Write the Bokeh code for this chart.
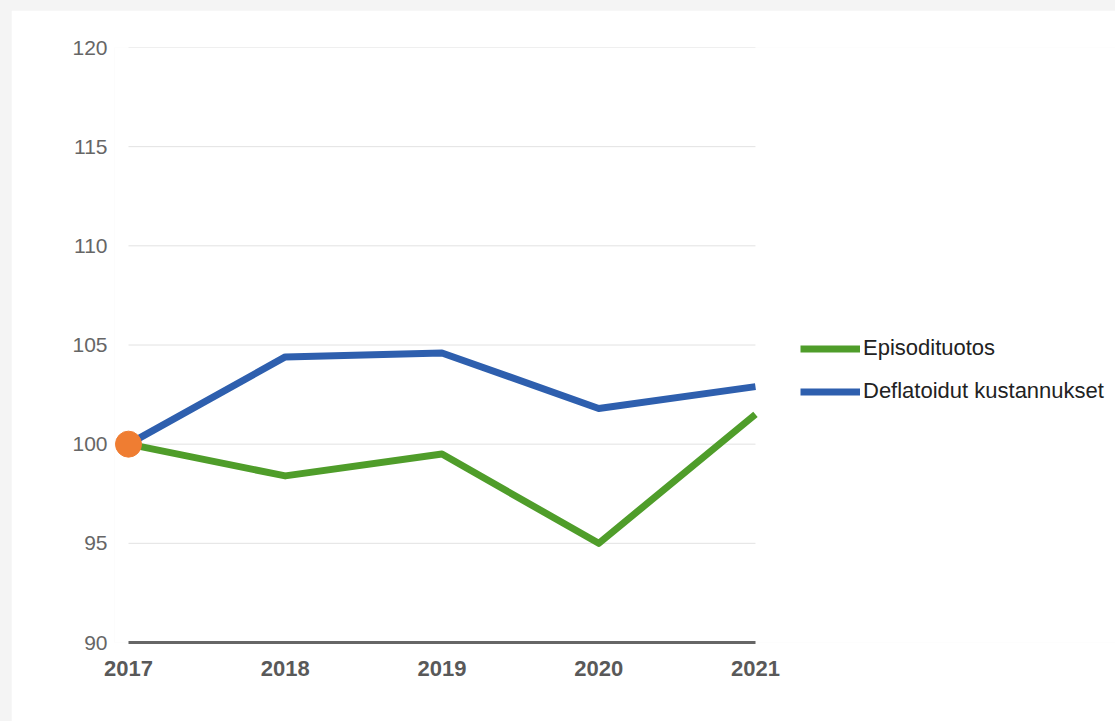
from bokeh.plotting import figure
from bokeh.models import Legend, LegendItem, FixedTicker, Range1d
from bokeh.embed import file_html
from bokeh.resources import INLINE

years = [2017, 2018, 2019, 2020, 2021]
episodituotos = [100.0, 98.4, 99.5, 95.0, 101.5]
kustannukset = [100.0, 104.4, 104.6, 101.8, 102.9]
y_ticks = [90, 95, 100, 105, 110, 115, 120]
base_year = [2017]
base_value = [100.0]

FONT = "Liberation Sans"

# frame spans the whole panel width right of the y labels; the data years occupy
# the left part and the legend sits in the empty area to their right
p = figure(width=1104, height=711, output_backend="svg", toolbar_location=None,
           x_range=Range1d(2016.9107, 2023.297), y_range=Range1d(90, 120),
           min_border_left=103, min_border_right=0, min_border_top=37,
           min_border_bottom=79)
p.margin = (10, 0, 0, 11)
p.outline_line_color = None
p.background_fill_color = "white"
p.border_fill_color = "white"

# horizontal grid lines spanning only the data years
p.segment(x0=[years[0]] * (len(y_ticks) - 1), x1=[years[-1]] * (len(y_ticks) - 1),
          y0=y_ticks[1:], y1=y_ticks[1:], line_color="#e2e2e2", line_width=1)

g = p.line(years, episodituotos, line_color="#4f9d2a", line_width=7, line_join="round", line_cap="butt")
b = p.line(years, kustannukset, line_color="#2e5fae", line_width=7, line_join="round", line_cap="butt")
p.scatter(base_year, base_value, size=26, fill_color="#ef7d32", line_color="#ef7d32")

p.xgrid.grid_line_color = None
p.ygrid.grid_line_color = None

p.yaxis.ticker = FixedTicker(ticks=y_ticks)
p.yaxis.axis_line_color = None
p.yaxis.major_tick_line_color = None
p.yaxis.minor_tick_line_color = None
p.yaxis.major_label_standoff = 1
p.yaxis.major_label_text_font = FONT
p.yaxis.major_label_text_font_size = "21px"
p.yaxis.major_label_text_color = "#666666"

p.xaxis.ticker = FixedTicker(ticks=years)
p.xaxis.bounds = (years[0], years[-1])
p.xaxis.axis_line_color = "#666666"
p.xaxis.axis_line_width = 3
p.xaxis.major_tick_line_color = None
p.xaxis.minor_tick_line_color = None
p.xaxis.major_label_standoff = 12
p.xaxis.major_label_text_font = FONT
p.xaxis.major_label_text_font_size = "22px"
p.xaxis.major_label_text_font_style = "bold"
p.xaxis.major_label_text_color = "#595959"

legend = Legend(items=[LegendItem(label="Episodituotos", renderers=[g]),
                       LegendItem(label="Deflatoidut kustannukset", renderers=[b])],
                location=(686, 238), padding=0, margin=0, spacing=17,
                glyph_width=60, glyph_height=21, label_standoff=3,
                border_line_color=None, background_fill_alpha=0,
                label_text_font=FONT, label_text_font_size="22px",
                label_text_color="#222222")
p.add_layout(legend, "center")

html = file_html(p, INLINE)
html = html.replace("</head>", "<style>html, body { background-color: #f4f4f4; }</style></head>", 1)
open("out.html", "w").write(html)
